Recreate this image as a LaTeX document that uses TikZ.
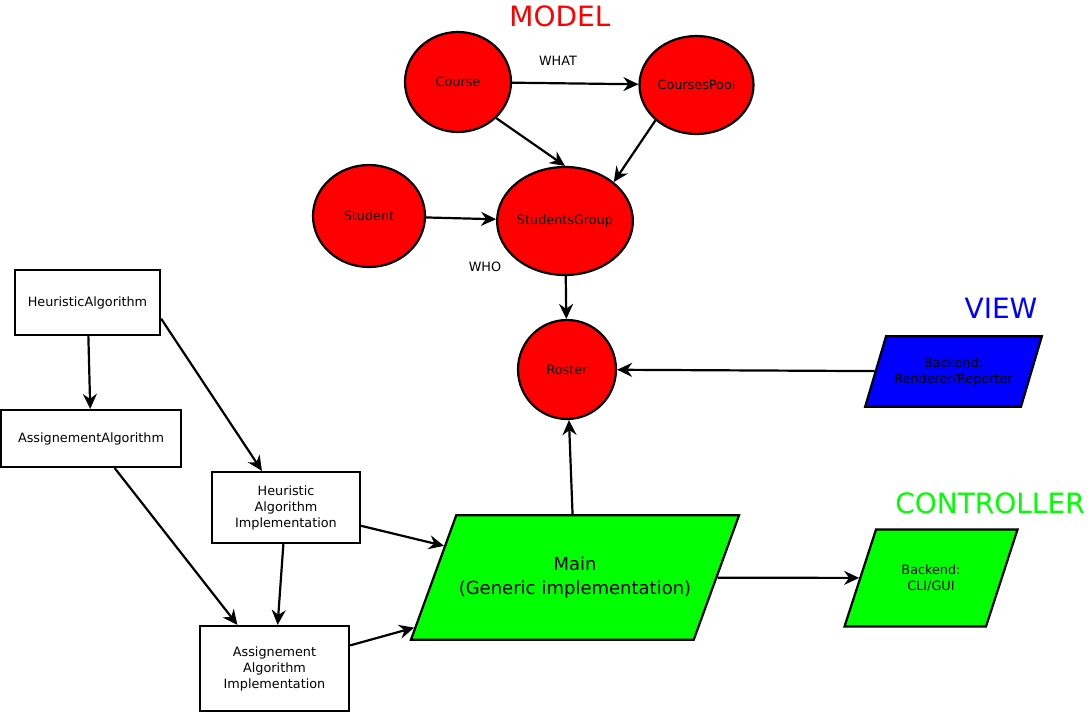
\documentclass[tikz,border=0pt]{standalone}
\usepackage{fontspec}
\setmainfont{DejaVu Sans}
\usepackage{tikz}
\usetikzlibrary{arrows.meta, positioning, shapes.geometric, calc}
\usepackage{xcolor}
\definecolor{modelred}{RGB}{255, 0, 0}
\definecolor{viewblue}{RGB}{0, 0, 255}
\definecolor{ctrlgreen}{RGB}{0, 255, 0}

\begin{document}
\begin{tikzpicture}[
        x=1pt, y=-1pt,
        every node/.style={font=\fontsize{12.8}{16}\selectfont},
        entity/.style={ellipse, draw, fill=modelred, line width=2.2pt,
                       inner sep=0pt},
        algo/.style={rectangle, draw, line width=2.2pt, align=center},
        slanted/.style={trapezium, trapezium stretches=false, draw,
                        line width=2.2pt, align=center, inner xsep=0pt},
        heading/.style={font=\fontsize{28}{32}\selectfont},
        link/.style={-{Stealth[length=15pt, width=14pt, inset=5pt]},
                     line width=2.2pt},
      ]
        \useasboundingbox (0,0) rectangle (1088,713);

        % model
        \node[heading, text=modelred] (modeltitle) at (560,16) {MODEL};
        \node[entity, minimum width=106, minimum height=100] (course) at (458,82) {Course};
        \node[entity, minimum width=114, minimum height=98] (pool) at (696.5,85) {CoursesPool};
        \node[entity, minimum width=112, minimum height=102] (student) at (369,216) {Student};
        \node[entity, minimum width=124, minimum height=108] (group) at (565,221) {StudentsGroup};
        \node[entity, minimum width=98, minimum height=99] (roster) at (567,369.5) {Roster};
        \node (what) at (558,61) {WHAT};
        \node (who) at (485,267) {WHO};

        % view
        \node[heading, text=viewblue] (viewtitle) at (1001,308) {VIEW};
        \node[slanted, fill=viewblue, trapezium left angle=73.5,
              trapezium right angle=106.5, text width=135, inner ysep=21]
          (render) at (953.5,371.5) {Backend:\\Renderer/Reporter};

        % controller
        \node[heading, text=ctrlgreen] (ctrltitle) at (990,503) {CONTROLLER};
        \node[slanted, fill=ctrlgreen, trapezium left angle=70,
              trapezium right angle=110, text width=237.5, inner ysep=41.5,
              font=\fontsize{18}{24}\selectfont]
          (main) at (575,577.5) {Main\\(Generic implementation)};
        \node[slanted, fill=ctrlgreen, trapezium left angle=72,
              trapezium right angle=108, text width=110, inner ysep=35]
          (cli) at (931,578) {Backend:\\CLI/GUI};

        % algorithms
        \node[algo, minimum width=145, minimum height=65] (halgo) at (87.5,302.5) {HeuristicAlgorithm};
        \node[algo, minimum width=180, minimum height=57] (aalgo) at (91,438.5) {AssignementAlgorithm};
        \node[algo, minimum width=148, minimum height=71] (himpl) at (286,507.5)
          {Heuristic\\Algorithm\\Implementation};
        \node[algo, minimum width=149, minimum height=85] (aimpl) at (274.5,668.5)
          {Assignement\\Algorithm\\Implementation};

        \draw[link] (course) -- (pool);
        \draw[link] (course.south east) -- (group.north);
        \draw[link] (pool.south west) -- (group.north east);
        \draw[link] (student) -- (group);
        \draw[link] (group) -- (roster);
        \draw[link] (render) -- (roster);
        \draw[link] (main) -- (roster);
        \draw[link] (main) -- (cli);

        \draw[link] (halgo) -- (aalgo);
        \draw[link] ($(halgo.north east)!0.74!(halgo.south east)$)
          -- ($(himpl.north west)!0.34!(himpl.north east)$);
        \draw[link] ($(aalgo.south west)!0.63!(aalgo.south east)$)
          -- ($(aimpl.north west)!0.255!(aimpl.north east)$);
        \draw[link] (himpl) -- (aimpl);
        \draw[link] ($(himpl.north east)!0.75!(himpl.south east)$)
          -- ($(main.bottom left corner)!0.75!(main.top left corner)$);
        \draw[link] ($(aimpl.north east)!0.235!(aimpl.south east)$)
          -- ($(main.bottom left corner)!0.104!(main.top left corner)$);
      \end{tikzpicture}
\end{document}
